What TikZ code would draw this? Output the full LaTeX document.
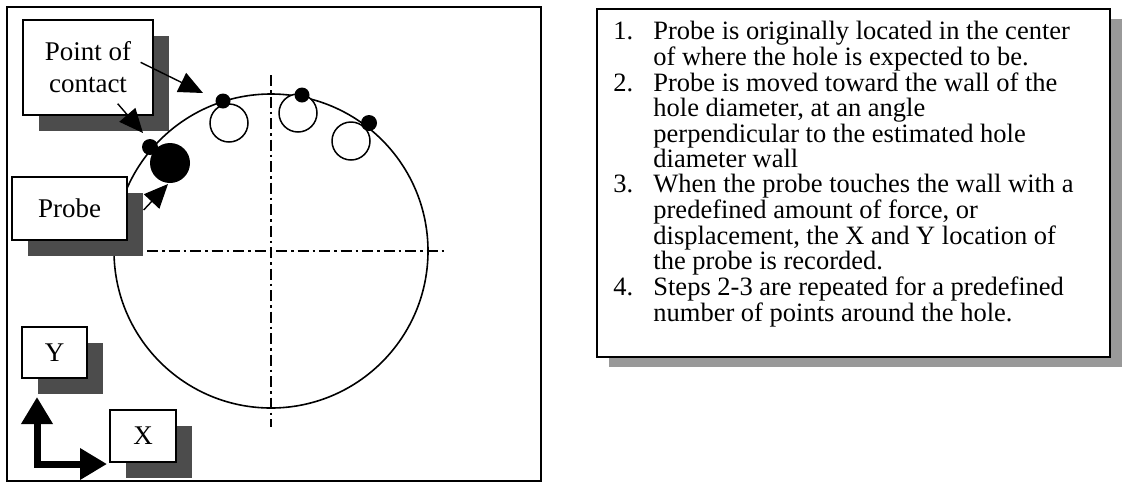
\documentclass[tikz,border=0pt]{standalone}
\usepackage{fontspec}
\setmainfont{Liberation Serif}
\usetikzlibrary{arrows.meta,positioning,calc,shadows}
\tikzset{
  labelbox/.style={draw,fill=white,line width=1.3pt,inner sep=0pt,align=center,
    font=\fontsize{27}{32}\selectfont,
    drop shadow={shadow xshift=16pt,shadow yshift=-16pt,fill=black!70,opacity=1}},
  stepsbox/.style={draw,fill=white,line width=1.6pt,inner sep=0pt,
    minimum width=513pt,minimum height=348pt,
    drop shadow={shadow xshift=12pt,shadow yshift=-10pt,fill=black!40,opacity=1}},
  holeline/.style={line width=1.6pt,dash pattern=on 11pt off 4pt on 2.5pt off 4pt},
  probenow/.style={circle,fill=black,inner sep=0pt,minimum size=40pt},
  probeold/.style={circle,draw,line width=1.5pt,fill=white,inner sep=0pt,minimum size=38pt},
  touchdot/.style={circle,fill=black,inner sep=0pt,minimum size=16pt},
  pointarrow/.style={-{Triangle[length=24pt,width=21pt]},line width=1.4pt},
  axisarrow/.style={{Triangle[length=27pt,width=30pt]}-{Triangle[length=27pt,width=30pt]},
    line width=7pt,line join=miter},
}

\begin{document}
\begin{tikzpicture}[x=1pt,y=-1pt]
  \useasboundingbox (0,0) rectangle (1123,483);
  % left panel: the hole
  \draw[line width=1.8pt] (7,7) rectangle (541,481);
  \coordinate (hole) at (271,251);
  \draw[line width=1.6pt] (hole) circle[radius=157];
  \draw[holeline] (271,75) -- (271,427);
  \draw[holeline] (147,251) -- (445,251);

  % probe positions
  \node[probeold] (probeB) at (229,123) {};
  \node[probeold] (probeC) at (298,113) {};
  \node[probeold] (probeD) at (351,141) {};
  \node[probenow] (probeA) at (170,163) {};
  \node[touchdot] (touchA) at (150,147) {};
  \node[touchdot,minimum size=15pt] (touchB) at (223,101) {};
  \node[touchdot,minimum size=15pt] (touchC) at (302,95) {};
  \node[touchdot] (touchD) at (369,123) {};

  % labels
  \node[labelbox,minimum width=130pt,minimum height=95pt] (contact) at (88,67.5) {Point of\\contact};
  \node[labelbox,minimum width=115pt,minimum height=63pt] (probe) at (69.5,208.5) {Probe};
  \node[labelbox,minimum width=65pt,minimum height=51pt] (ylabel) at (54.5,352.5) {Y};
  \node[labelbox,minimum width=66pt,minimum height=52pt] (xlabel) at (143,436) {X};

  \coordinate (tipB) at (203,93);
  \coordinate (tipA) at (143,133);
  \coordinate (tipP) at (168,184);
  \draw[pointarrow] ($(contact.north east)+(-13,43)$) -- (tipB);
  \draw[pointarrow] ($(contact.south east)+(-36,-12)$) -- (tipA);
  \draw[pointarrow] ($(probe.east)+(16,1.5)$) -- (tipP);

  % axes
  \coordinate (origin) at (37,464);
  \coordinate (ytip) at (37,397);
  \coordinate (xtip) at (107,464);
  \draw[axisarrow] (ytip) -- (origin) -- (xtip);

  % right panel: the steps
  \node[stepsbox] (steps) at (853.5,183) {};
  \node[anchor=north west,inner sep=0pt,align=left,
    font=\fontsize{26.5}{23.5}\selectfont] (steplist) at ($(steps.north west)+(17,13)$) {%
    \begin{tabular}{@{}p{40pt}@{}l@{}}
      1. & Probe is originally located in the center\\
         & of where the hole is expected to be.\\
      2. & Probe is moved toward the wall of the\\
         & hole diameter, at an angle\\
         & perpendicular to the estimated hole\\
         & diameter wall\\
      3. & When the probe touches the wall with a\\
         & predefined amount of force, or\\
         & displacement, the X and Y location of\\
         & the probe is recorded.\\
      4. & Steps 2-3 are repeated for a predefined\\
         & number of points around the hole.
    \end{tabular}};
\end{tikzpicture}
\end{document}
